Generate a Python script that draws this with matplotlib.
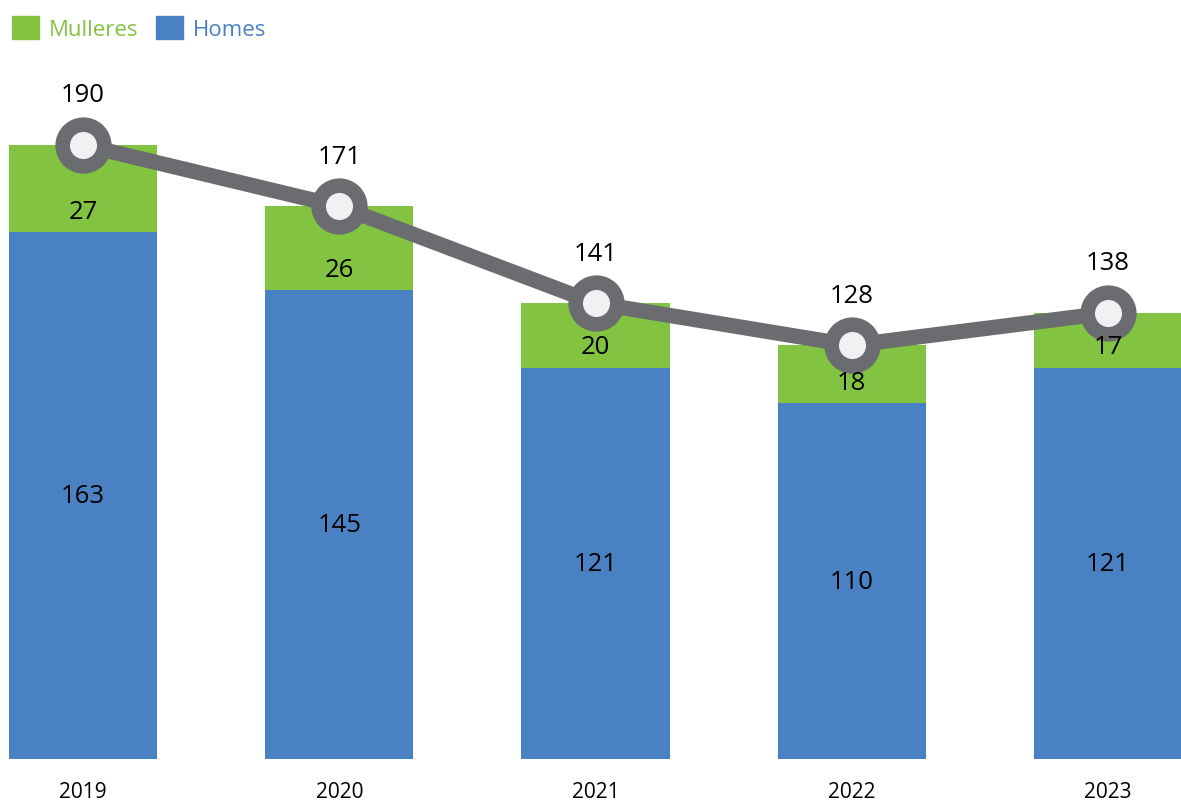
import matplotlib
matplotlib.use("Agg")
import matplotlib.pyplot as plt
from matplotlib.patches import Patch
import numpy as np

years = ["2019", "2020", "2021", "2022", "2023"]
homes = [163, 145, 121, 110, 121]
mulleres = [27, 26, 20, 18, 17]
totals = [190, 171, 141, 128, 138]

GREEN = "#82C341"
BLUE = "#4A81C2"
GRAY = "#6B6C70"
plt.rcParams["font.family"] = ["Open Sans", "DejaVu Sans"]

fig = plt.figure(figsize=(11.81, 8.03), dpi=100)
ax = fig.add_axes([0, 43 / 803, 1, 760 / 803])
x = np.arange(len(years))

ax.bar(x, homes, width=0.578, color=BLUE, zorder=2)
ax.bar(x, mulleres, width=0.578, bottom=homes, color=GREEN, zorder=2)

for xi, h, m in zip(x, homes, mulleres):
    ax.text(xi, h / 2, str(h), ha="center", va="center", fontsize=18.5, color="black", zorder=5)
    ax.text(xi, h + 6.5, str(m), ha="center", va="center", fontsize=18.5, color="black", zorder=5)

ax.plot(x, totals, color=GRAY, lw=11, marker="o", ms=30, mew=10.5,
        mec=GRAY, mfc="#F0F1F3", zorder=4, solid_capstyle="round")
for xi, t in zip(x, totals):
    ax.annotate(str(t), (xi, t), xytext=(0, 36), textcoords="offset points",
                ha="center", va="center", fontsize=18.5, color="black")

ax.set_xlim(-83 / 256, 4 + 73 / 256)
ax.set_ylim(0, 760 / 3.232)
ax.set_xticks(x)
ax.set_xticklabels(years, fontsize=15)
ax.tick_params(axis="x", length=0, pad=16)
ax.set_yticks([])
for s in ax.spines.values():
    s.set_visible(False)

handles = [Patch(color=GREEN), Patch(color=BLUE)]
ax.legend(handles, ["Mulleres", "Homes"], loc="upper left", bbox_to_anchor=(0, 1 - 5 / 760),
          ncol=2, frameon=False, fontsize=16, handlelength=1.2, handleheight=1.2,
          handletextpad=0.45, columnspacing=0.8, borderpad=0, borderaxespad=0.55,
          labelcolor=[GREEN, BLUE])

fig.savefig("out.png", dpi=100, facecolor="white")
